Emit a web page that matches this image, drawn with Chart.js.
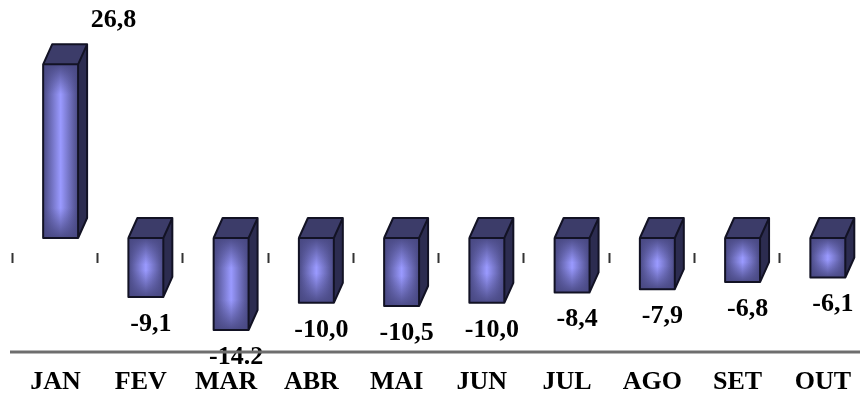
<!DOCTYPE html>
<html>
<head>
<meta charset="utf-8">
<script src="https://cdn.jsdelivr.net/npm/chart.js@4.4.0/dist/chart.umd.min.js"></script>
<style>
  html, body { margin: 0; padding: 0; background: #fff; overflow: hidden; }
  #wrap { position: relative; width: 872px; height: 394px; }
</style>
</head>
<body>
<div id="wrap"><canvas id="chart"></canvas></div>
<script>
const months = ["JAN", "FEV", "MAR", "ABR", "MAI", "JUN", "JUL", "AGO", "SET", "OUT"];
const values = [26.8, -9.1, -14.2, -10.0, -10.5, -10.0, -8.4, -7.9, -6.8, -6.1];
const valueLabels = ["26,8", "-9,1", "-14.2", "-10,0", "-10,5", "-10,0", "-8,4", "-7,9", "-6,8", "-6,1"];

const DX = 9, DY = 20;
const FONT = '"Liberation Serif", "Times New Roman", serif';

// fake 3d: top + side faces and a pillow shaded front
const bars3d = {
  id: "bars3d",
  beforeDraw(chart) {
    // value labels go under everything so the axis line can cover them
    const ctx = chart.ctx;
    const meta = chart.getDatasetMeta(0);
    ctx.save();
    ctx.font = "bold 26px " + FONT;
    ctx.fillStyle = "#000";
    ctx.textAlign = "center";
    ctx.textBaseline = "middle";
    meta.data.forEach((bar, i) => {
      const { x, y } = bar.getProps(["x", "y"], true);
      if (values[i] >= 0) {
        ctx.fillText(valueLabels[i], x + 53, y - 44);
      } else {
        ctx.fillText(valueLabels[i], x + 5, y + 27);
      }
    });
    ctx.restore();
  },
  beforeDatasetsDraw(chart) {
    const ctx = chart.ctx;
    const xs = chart.scales.x;
    const area = chart.chartArea;
    const zeroY = chart.scales.y.getPixelForValue(0);
    const catW = xs.width / months.length;
    ctx.save();
    ctx.strokeStyle = "#333";
    ctx.lineWidth = 2;
    months.forEach((m, i) => {
      const px = Math.round(xs.getPixelForValue(i) - catW / 2 - 6) + 0.5;
      ctx.beginPath();
      ctx.moveTo(px, zeroY + 15);
      ctx.lineTo(px, zeroY + 25);
      ctx.stroke();
    });
    // bottom axis line
    ctx.strokeStyle = "#6e6e6e";
    ctx.lineWidth = 3;
    ctx.beginPath();
    ctx.moveTo(area.left - 8, area.bottom + 1);
    ctx.lineTo(area.right, area.bottom + 1);
    ctx.stroke();
    ctx.restore();
  },
  afterDatasetsDraw(chart) {
    const ctx = chart.ctx;
    const meta = chart.getDatasetMeta(0);
    meta.data.forEach(bar => {
      const { x, y, base, width } = bar.getProps(["x", "y", "base", "width"], true);
      const l = x - width / 2, r = x + width / 2;
      const t = Math.min(y, base), b = Math.max(y, base);
      const h = b - t;
      ctx.save();
      // front
      let g = ctx.createLinearGradient(l, 0, r, 0);
      g.addColorStop(0, "#4a4a84");
      g.addColorStop(0.5, "#9a9aff");
      g.addColorStop(1, "#4a4a84");
      ctx.fillStyle = g;
      ctx.fillRect(l, t, width, h);
      const f = Math.min(0.45, 30 / h);
      g = ctx.createLinearGradient(0, t, 0, b);
      g.addColorStop(0, "rgba(72,72,130,0.95)");
      g.addColorStop(f, "rgba(72,72,130,0)");
      g.addColorStop(1 - f, "rgba(72,72,130,0)");
      g.addColorStop(1, "rgba(72,72,130,0.95)");
      ctx.fillStyle = g;
      ctx.fillRect(l, t, width, h);
      // top
      ctx.fillStyle = "#3c3c69";
      ctx.beginPath();
      ctx.moveTo(l, t);
      ctx.lineTo(l + DX, t - DY);
      ctx.lineTo(r + DX, t - DY);
      ctx.lineTo(r, t);
      ctx.closePath();
      ctx.fill();
      // side
      ctx.fillStyle = "#2c2c50";
      ctx.beginPath();
      ctx.moveTo(r, t);
      ctx.lineTo(r + DX, t - DY);
      ctx.lineTo(r + DX, b - DY);
      ctx.lineTo(r, b);
      ctx.closePath();
      ctx.fill();
      // outline
      ctx.strokeStyle = "#121224";
      ctx.lineWidth = 2;
      ctx.lineJoin = "round";
      ctx.beginPath();
      ctx.rect(l, t, width, h);
      ctx.moveTo(l, t);
      ctx.lineTo(l + DX, t - DY);
      ctx.lineTo(r + DX, t - DY);
      ctx.lineTo(r + DX, b - DY);
      ctx.lineTo(r, b);
      ctx.moveTo(r, t);
      ctx.lineTo(r + DX, t - DY);
      ctx.stroke();
      ctx.restore();
    });
  }
};

new Chart(document.getElementById("chart"), {
  type: "bar",
  data: {
    labels: months,
    datasets: [{
      data: values,
      backgroundColor: "#6a6ab8",
      borderWidth: 0,
      barPercentage: 0.41,
      categoryPercentage: 1
    }]
  },
  options: {
    responsive: true,
    maintainAspectRatio: false,
    animation: false,
    layout: { padding: { left: 18, right: 0, top: 0, bottom: 0 } },
    plugins: {
      legend: { display: false },
      tooltip: { enabled: false }
    },
    scales: {
      x: {
        grid: { display: false, drawTicks: false },
        border: { display: false },
        ticks: {
          color: "#000",
          padding: 16,
          labelOffset: -5,
          font: { family: FONT, size: 26, weight: "bold" }
        },
        afterFit(scale) { scale.height = 43; }
      },
      y: {
        display: false,
        min: -17.44,
        max: 36.73
      }
    }
  },
  plugins: [bars3d]
});
</script>
</body>
</html>
